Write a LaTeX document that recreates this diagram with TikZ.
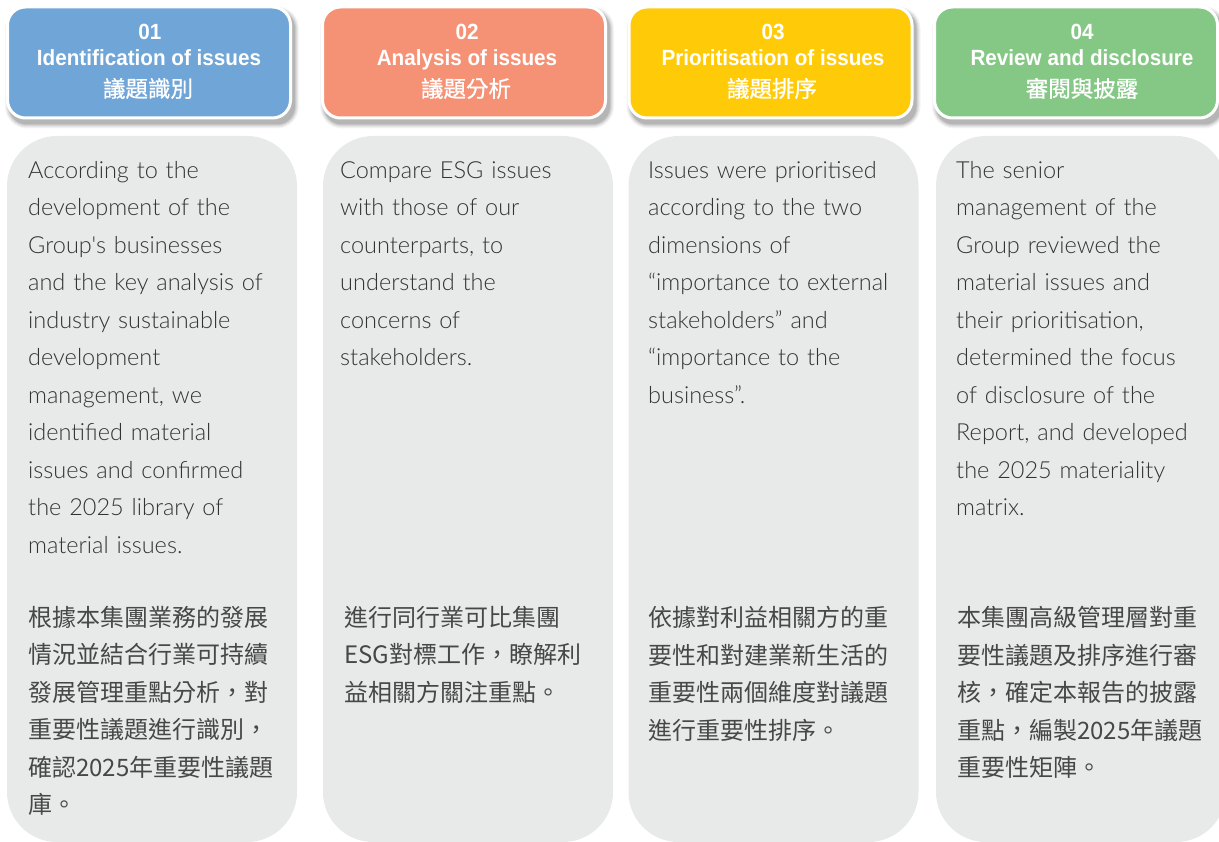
\documentclass[tikz,border=0pt]{standalone}
\usepackage{fontspec}
\usetikzlibrary{backgrounds,calc}
\newfontfamily\bodyfont{Lato Light}
\newfontfamily\hdfont{Liberation Sans}[FakeStretch=0.94]
\newfontfamily\cjk{Noto Sans CJK TC}
\newfontfamily\cjkhd{Noto Sans CJK TC}[FakeBold=0.8]
\definecolor{hblue}{HTML}{6FA5D7}
\definecolor{hsalmon}{HTML}{F59275}
\definecolor{hyellow}{HTML}{FFCB08}
\definecolor{hgreen}{HTML}{85C886}
\definecolor{bodygray}{HTML}{E8E9E9}
\definecolor{txt}{HTML}{333333}
\definecolor{cntxt}{HTML}{474747}
\tikzset{
  hdbox/.style={draw=white, line width=3pt, rounded corners=18pt, minimum width=283pt, minimum height=111pt, inner sep=0pt},
  bodybox/.style={fill=bodygray, rounded corners=50pt, minimum width=290pt, minimum height=706pt, inner sep=0pt},
  hdnum/.style={anchor=base, inner sep=0pt, text=white, font=\hdfont\bfseries\fontsize{22}{24}\selectfont},
  hdtitle/.style={anchor=base, inner sep=0pt, text=white, font=\hdfont\bfseries\fontsize{22}{24}\selectfont},
  hdcn/.style={anchor=base, inner sep=0pt, text=white, font=\cjkhd\fontsize{22.5}{24}\selectfont},
  entext/.style={anchor=north west, inner sep=0pt, text=txt, text width=300pt, align=left, font=\bodyfont\fontsize{23.5}{37.5}\selectfont},
  cntext/.style={anchor=north west, inner sep=0pt, text=cntxt, text width=300pt, align=left, font=\cjk\fontsize{24}{37.5}\selectfont},
}
\newcommand{\fl}{\rule{0pt}{20pt}}
\begin{document}
\begin{tikzpicture}[x=1pt, y=-1pt]
\useasboundingbox (0,0) rectangle (1219,842);
% body boxes
\node[bodybox] (b1) at (152,489) {};
\node[bodybox] (b2) at (468,489) {};
\node[bodybox] (b3) at (773.5,489) {};
\node[bodybox] (b4) at (1081,489) {};
% headers
\node[hdbox, fill=hblue] (h1) at (149,62.5) {};
\node[hdbox, fill=hsalmon] (h2) at (464,62.5) {};
\node[hdbox, fill=hyellow] (h3) at (770.5,62.5) {};
\node[hdbox, fill=hgreen] (h4) at (1076,62.5) {};
\begin{scope}[on background layer]
\foreach \h in {h1,h2,h3,h4}{
  \foreach \e/\o in {4/0.04,3/0.05,2/0.06,1/0.08,0/0.10}{
    \fill[black, opacity=\o, rounded corners=18pt+\e pt]
      ($(\h.south west)+(3-\e,5+\e)$) rectangle ($(\h.north east)+(3+\e,5-\e)$);
  }
}
\end{scope}
% header texts
\node[hdnum] (n1) at (150,40) {01};
\node[hdtitle] (t1) at (149,65.7) {Identification of issues};
\node[hdcn] (c1) at (148,97) {議題識別};
\node[hdnum] (n2) at (467,40) {02};
\node[hdtitle] (t2) at (467,65.7) {Analysis of issues};
\node[hdcn] (c2) at (466,97) {議題分析};
\node[hdnum] (n3) at (773,40) {03};
\node[hdtitle] (t3) at (773,65.7) {Prioritisation of issues};
\node[hdcn] (c3) at (772,97) {議題排序};
\node[hdnum] (n4) at (1082,40) {04};
\node[hdtitle] (t4) at (1082,65.7) {Review and disclosure};
\node[hdcn] (c4) at (1082,97) {審閱與披露};
% English body texts
\node[entext] (e1) at (28,158) {\fl According to the\\development of the\\Group's businesses\\and the key analysis of\\industry sustainable\\development\\management, we\\identified material\\issues and confirmed\\the 2025 library of\\material issues.};
\node[entext] (e2) at (340,158) {\fl Compare ESG issues\\with those of our\\counterparts, to\\understand the\\concerns of\\stakeholders.};
\node[entext] (e3) at (648,158) {\fl Issues were prioritised\\according to the two\\dimensions of\\“importance to external\\stakeholders” and\\“importance to the\\business”.};
\node[entext] (e4) at (956,158) {\fl The senior\\management of the\\Group reviewed the\\material issues and\\their prioritisation,\\determined the focus\\of disclosure of the\\Report, and developed\\the 2025 materiality\\matrix.};
% Chinese body texts
\node[cntext] (z1) at (28,606) {\fl 根據本集團業務的發展\\情況並結合行業可持續\\發展管理重點分析，對\\重要性議題進行識別，\\確認2025年重要性議題\\庫。};
\node[cntext] (z2) at (344,606) {\fl 進行同行業可比集團\\ESG對標工作，瞭解利\\益相關方關注重點。};
\node[cntext] (z3) at (648,606) {\fl 依據對利益相關方的重\\要性和對建業新生活的\\重要性兩個維度對議題\\進行重要性排序。};
\node[cntext] (z4) at (957,606) {\fl 本集團高級管理層對重\\要性議題及排序進行審\\核，確定本報告的披露\\重點，編製2025年議題\\重要性矩陣。};
\end{tikzpicture}
\end{document}
